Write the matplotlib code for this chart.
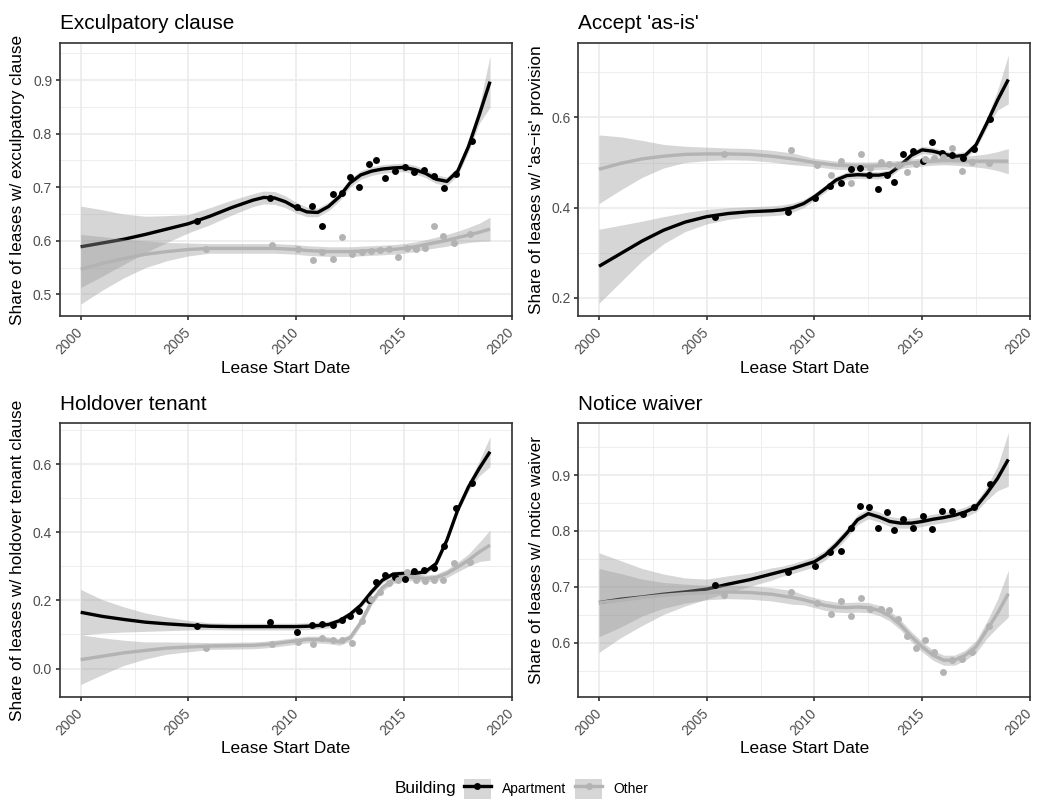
import matplotlib
matplotlib.use('Agg')
import matplotlib.pyplot as plt
from matplotlib.lines import Line2D
from matplotlib.patches import Patch
import numpy as np

plt.rcParams['font.family'] = ['Liberation Sans', 'DejaVu Sans']

# binned point dates (Apartment / Other)
apt_x = [2005.39, 2008.79, 2010.02, 2010.73, 2011.22, 2011.69, 2012.12, 2012.51, 2012.94, 2013.36,
         2013.71, 2014.13, 2014.57, 2015.04, 2015.46, 2015.92, 2016.38, 2016.88, 2017.40, 2018.15]
oth_x = [2005.82, 2008.90, 2010.11, 2010.77, 2011.22, 2011.70, 2012.15, 2012.60, 2013.07, 2013.48,
         2013.87, 2014.29, 2014.72, 2015.14, 2015.56, 2015.98, 2016.38, 2016.84, 2017.32, 2018.08]

# smooth curve read-off dates
smooth_x = [2000, 2001, 2002, 2003, 2004, 2005, 2006, 2007, 2008, 2008.5, 2009, 2009.5, 2010, 2010.5,
            2011, 2011.5, 2012, 2012.5, 2013, 2013.5, 2014, 2014.5, 2015, 2015.5, 2016, 2016.5,
            2017, 2017.5, 2018, 2018.5, 2019]

# --- Exculpatory clause
exc_apt = [0.637, 0.680, 0.664, 0.665, 0.627, 0.688, 0.690, 0.720, 0.700, 0.744,
           0.751, 0.718, 0.731, 0.738, 0.728, 0.733, 0.721, 0.699, 0.725, 0.787]
exc_oth = [0.585, 0.593, 0.584, 0.564, 0.579, 0.567, 0.608, 0.575, 0.579, 0.581,
           0.583, 0.584, 0.570, 0.586, 0.584, 0.586, 0.628, 0.609, 0.596, 0.612]
exc_apt_fit = [0.589, 0.596, 0.603, 0.612, 0.622, 0.632, 0.646, 0.662, 0.676, 0.681, 0.680, 0.673, 0.662, 0.654,
               0.653, 0.664, 0.682, 0.708, 0.723, 0.730, 0.734, 0.736, 0.737, 0.733, 0.726, 0.715,
               0.711, 0.730, 0.776, 0.835, 0.897]
exc_apt_se = [0.076, 0.062, 0.047, 0.034, 0.025, 0.017, 0.016, 0.014, 0.012, 0.012, 0.012, 0.011, 0.010, 0.009,
              0.008, 0.008, 0.008, 0.008, 0.008, 0.008, 0.008, 0.008, 0.008, 0.008, 0.008, 0.008,
              0.008, 0.008, 0.010, 0.016, 0.048]
exc_oth_fit = [0.547, 0.558, 0.567, 0.575, 0.580, 0.584, 0.586, 0.586, 0.586, 0.586, 0.586, 0.585, 0.584, 0.582,
               0.581, 0.580, 0.580, 0.580, 0.581, 0.582, 0.583, 0.584, 0.586, 0.589, 0.593, 0.597,
               0.601, 0.606, 0.611, 0.616, 0.622]
exc_oth_se = [0.065, 0.050, 0.036, 0.025, 0.017, 0.012, 0.009, 0.009, 0.009, 0.009, 0.009, 0.009, 0.009, 0.009,
              0.009, 0.009, 0.009, 0.009, 0.009, 0.009, 0.009, 0.009, 0.009, 0.009, 0.009, 0.010,
              0.011, 0.012, 0.014, 0.017, 0.022]

# --- Accept 'as-is'
asis_apt = [0.379, 0.391, 0.422, 0.447, 0.455, 0.485, 0.487, 0.473, 0.442, 0.472,
            0.457, 0.519, 0.525, 0.504, 0.545, 0.520, 0.516, 0.509, 0.529, 0.597]
asis_oth = [0.519, 0.528, 0.495, 0.473, 0.504, 0.455, 0.518, 0.487, 0.501, 0.496,
            0.495, 0.478, 0.496, 0.507, 0.510, 0.512, 0.533, 0.482, 0.501, 0.498]
asis_apt_fit = [0.270, 0.298, 0.326, 0.350, 0.368, 0.380, 0.387, 0.391, 0.393, 0.395, 0.400, 0.409, 0.424, 0.442,
                0.461, 0.471, 0.473, 0.472, 0.472, 0.476, 0.494, 0.516, 0.528, 0.525, 0.519, 0.513,
                0.516, 0.539, 0.587, 0.638, 0.684]
asis_apt_se = [0.082, 0.063, 0.044, 0.030, 0.021, 0.016, 0.013, 0.011, 0.011, 0.011, 0.010, 0.009, 0.008, 0.008,
               0.008, 0.008, 0.008, 0.008, 0.008, 0.008, 0.008, 0.008, 0.008, 0.008, 0.008, 0.008,
               0.008, 0.008, 0.011, 0.022, 0.054]
asis_oth_fit = [0.485, 0.498, 0.508, 0.514, 0.518, 0.519, 0.519, 0.518, 0.514, 0.511, 0.508, 0.504, 0.500, 0.497,
                0.494, 0.493, 0.492, 0.492, 0.493, 0.494, 0.496, 0.499, 0.501, 0.503, 0.504, 0.504,
                0.503, 0.503, 0.503, 0.503, 0.503]
asis_oth_se = [0.076, 0.059, 0.041, 0.026, 0.018, 0.015, 0.013, 0.013, 0.013, 0.013, 0.013, 0.011, 0.009, 0.009,
               0.009, 0.009, 0.009, 0.009, 0.009, 0.009, 0.009, 0.009, 0.009, 0.009, 0.009, 0.010,
               0.011, 0.013, 0.016, 0.021, 0.028]

# --- Holdover tenant
hold_apt = [0.124, 0.136, 0.107, 0.127, 0.132, 0.127, 0.142, 0.154, 0.169, 0.200,
            0.254, 0.274, 0.269, 0.264, 0.286, 0.288, 0.296, 0.359, 0.472, 0.544]
hold_oth = [0.059, 0.071, 0.079, 0.073, 0.089, 0.085, 0.085, 0.075, 0.140, 0.205,
            0.225, 0.251, 0.259, 0.284, 0.261, 0.257, 0.259, 0.261, 0.311, 0.313]
hold_apt_fit = [0.165, 0.153, 0.144, 0.136, 0.131, 0.127, 0.124, 0.123, 0.123, 0.123, 0.123, 0.123, 0.123, 0.124,
                0.126, 0.129, 0.140, 0.159, 0.186, 0.225, 0.259, 0.277, 0.279, 0.279, 0.284, 0.308,
                0.377, 0.465, 0.533, 0.587, 0.636]
hold_apt_se = [0.067, 0.049, 0.037, 0.027, 0.020, 0.014, 0.010, 0.010, 0.010, 0.010, 0.010, 0.010, 0.010, 0.010,
               0.010, 0.010, 0.008, 0.008, 0.008, 0.008, 0.008, 0.008, 0.008, 0.008, 0.008, 0.008,
               0.008, 0.008, 0.012, 0.022, 0.044]
hold_oth_fit = [0.026, 0.036, 0.046, 0.053, 0.060, 0.063, 0.066, 0.067, 0.068, 0.070, 0.073, 0.077, 0.081, 0.085,
                0.085, 0.083, 0.078, 0.090, 0.135, 0.196, 0.237, 0.259, 0.269, 0.267, 0.264, 0.267,
                0.279, 0.298, 0.318, 0.342, 0.362]
hold_oth_se = [0.073, 0.054, 0.037, 0.025, 0.018, 0.014, 0.010, 0.010, 0.010, 0.010, 0.010, 0.010, 0.010, 0.010,
               0.010, 0.010, 0.010, 0.010, 0.010, 0.010, 0.010, 0.010, 0.010, 0.010, 0.010, 0.010,
               0.012, 0.014, 0.018, 0.028, 0.044]

# --- Notice waiver
notice_apt = [0.703, 0.727, 0.737, 0.762, 0.764, 0.806, 0.845, 0.843, 0.805, 0.834,
              0.801, 0.822, 0.806, 0.827, 0.804, 0.836, 0.836, 0.831, 0.843, 0.884]
notice_oth = [0.685, 0.691, 0.672, 0.652, 0.675, 0.648, 0.681, 0.661, 0.660, 0.658,
              0.642, 0.612, 0.590, 0.605, 0.584, 0.548, 0.569, 0.572, 0.584, 0.630]
notice_apt_fit = [0.672, 0.678, 0.682, 0.687, 0.691, 0.696, 0.705, 0.713, 0.723, 0.728, 0.733, 0.739, 0.745, 0.757,
                  0.775, 0.796, 0.820, 0.831, 0.825, 0.817, 0.814, 0.814, 0.817, 0.821, 0.824, 0.828,
                  0.834, 0.843, 0.867, 0.894, 0.928]
notice_apt_se = [0.089, 0.069, 0.051, 0.036, 0.025, 0.018, 0.015, 0.012, 0.011, 0.009, 0.009, 0.009, 0.009, 0.009,
                 0.009, 0.009, 0.009, 0.009, 0.009, 0.009, 0.009, 0.009, 0.009, 0.009, 0.009, 0.009,
                 0.009, 0.009, 0.012, 0.022, 0.048]
notice_oth_fit = [0.672, 0.676, 0.681, 0.685, 0.688, 0.690, 0.691, 0.690, 0.687, 0.684, 0.681, 0.677, 0.672, 0.667,
                  0.664, 0.663, 0.664, 0.663, 0.658, 0.648, 0.632, 0.611, 0.593, 0.578, 0.569, 0.569,
                  0.578, 0.593, 0.623, 0.653, 0.688]
notice_oth_se = [0.061, 0.048, 0.033, 0.023, 0.017, 0.013, 0.012, 0.012, 0.012, 0.012, 0.012, 0.009, 0.009, 0.009,
                 0.009, 0.009, 0.009, 0.009, 0.009, 0.009, 0.009, 0.009, 0.009, 0.009, 0.009, 0.009,
                 0.009, 0.011, 0.015, 0.025, 0.042]

panels = [
    dict(title='Exculpatory clause', ylabel='Share of leases w/ exculpatory clause',
         apt=exc_apt, oth=exc_oth, apt_fit=exc_apt_fit, apt_se=exc_apt_se, oth_fit=exc_oth_fit, oth_se=exc_oth_se,
         ylim=(0.4595, 0.9696), yticks=[0.5, 0.6, 0.7, 0.8, 0.9], yminor=[0.55, 0.65, 0.75, 0.85, 0.95]),
    dict(title="Accept 'as-is'", ylabel="Share of leases w/ 'as\u2212is' provision",
         apt=asis_apt, oth=asis_oth, apt_fit=asis_apt_fit, apt_se=asis_apt_se, oth_fit=asis_oth_fit, oth_se=asis_oth_se,
         ylim=(0.1594, 0.7655), yticks=[0.2, 0.4, 0.6], yminor=[0.3, 0.5, 0.7]),
    dict(title='Holdover tenant', ylabel='Share of leases w/ holdover tenant clause',
         apt=hold_apt, oth=hold_oth, apt_fit=hold_apt_fit, apt_se=hold_apt_se, oth_fit=hold_oth_fit, oth_se=hold_oth_se,
         ylim=(-0.083, 0.7195), yticks=[0.0, 0.2, 0.4, 0.6], yminor=[0.1, 0.3, 0.5, 0.7]),
    dict(title='Notice waiver', ylabel='Share of leases w/ notice waiver',
         apt=notice_apt, oth=notice_oth, apt_fit=notice_apt_fit, apt_se=notice_apt_se, oth_fit=notice_oth_fit, oth_se=notice_oth_se,
         ylim=(0.5036, 0.9925), yticks=[0.6, 0.7, 0.8, 0.9], yminor=[0.55, 0.65, 0.75, 0.85, 0.95]),
]

xticks = [2000, 2005, 2010, 2015, 2020]
xminor = [2002.5, 2007.5, 2012.5, 2017.5]

W, H = 1037, 800
fig = plt.figure(figsize=(W / 96, H / 96), dpi=96)

# panel boxes in pixels (left, top)
boxes = [(60, 42.7), (578.3, 42.7), (60, 423.3), (578.3, 423.3)]
pw, ph = 452, 273.5

ribbon_c = '#999999'
apt_c = 'black'
oth_c = '#B3B3B3'
sx = np.array(smooth_x)
k = 1.18  # text / line scale of the source render

for p, (l, t) in zip(panels, boxes):
    ax = fig.add_axes([l / W, 1 - (t + ph) / H, pw / W, ph / H])
    ax.set_xlim(1999.04, 2020.02)
    ax.set_ylim(*p['ylim'])

    # grid
    for v in xminor:
        ax.axvline(v, color='#EBEBEB', lw=0.53 * k, zorder=0)
    for v in p['yminor']:
        ax.axhline(v, color='#EBEBEB', lw=0.53 * k, zorder=0)
    for v in xticks:
        ax.axvline(v, color='#EBEBEB', lw=1.07 * k, zorder=0)
    for v in p['yticks']:
        ax.axhline(v, color='#EBEBEB', lw=1.07 * k, zorder=0)

    # smooths: apartment ribbon+line, then other ribbon+line
    af, ase = np.array(p['apt_fit']), np.array(p['apt_se'])
    of, ose = np.array(p['oth_fit']), np.array(p['oth_se'])
    ax.fill_between(sx, af - ase, af + ase, color=ribbon_c, alpha=0.4, lw=0, zorder=2)
    ax.plot(sx, af, color=apt_c, lw=2.13 * k, zorder=3, solid_capstyle='butt')
    ax.fill_between(sx, of - ose, of + ose, color=ribbon_c, alpha=0.4, lw=0, zorder=4)
    ax.plot(sx, of, color=oth_c, lw=2.13 * k, zorder=5, solid_capstyle='butt')

    ax.plot(apt_x, p['apt'], 'o', color=apt_c, ms=5.2, mew=0, zorder=6)
    ax.plot(oth_x, p['oth'], 'o', color=oth_c, ms=5.2, mew=0, zorder=7)

    ax.set_xticks(xticks)
    ax.set_xticklabels([str(v) for v in xticks], rotation=45, ha='right', va='center',
                       rotation_mode='anchor')
    ax.set_yticks(p['yticks'])
    ax.set_yticklabels([f'{v:.1f}' for v in p['yticks']])
    ax.tick_params(axis='both', length=2.75 * k, width=1.07 * k, color='#333333', labelcolor='#4D4D4D',
                   labelsize=8.8 * k, pad=2.2 * k)
    ax.tick_params(axis='x', pad=7.5)
    for s in ax.spines.values():
        s.set_color('#333333')
        s.set_linewidth(1.07 * k)
        s.set_zorder(10)

    ax.set_title(p['title'], loc='left', fontsize=13.2 * k, pad=10, color='black')
    ax.set_ylabel(p['ylabel'], fontsize=11 * k, color='black')
    ax.yaxis.set_label_coords(-0.093, 0.5)
    ax.yaxis.label.set_va('center')
    ax.set_xlabel('Lease Start Date', fontsize=11 * k, color='black')
    ax.xaxis.set_label_coords(0.5, -0.19)
    ax.xaxis.label.set_va('center')

# legend
h_apt = (Patch(facecolor='#D6D6D6', edgecolor='none'),
         Line2D([], [], color=apt_c, lw=2.13 * k, marker='o', ms=5.2, mew=0))
h_oth = (Patch(facecolor='#D6D6D6', edgecolor='none'),
         Line2D([], [], color=oth_c, lw=2.13 * k, marker='o', ms=5.2, mew=0))
leg = fig.legend([h_apt, h_oth], ['Apartment', 'Other'], loc='center', bbox_to_anchor=(556 / W, 1 - 789 / H),
                 ncol=2, frameon=False, fontsize=8.8 * k, handlelength=1.95, handleheight=1.8,
                 columnspacing=0.65, handletextpad=0.8, borderpad=0)
fig.text(456 / W, 1 - 789 / H, 'Building', ha='right', va='center', fontsize=11 * k)

fig.savefig('out.png', dpi=96)
